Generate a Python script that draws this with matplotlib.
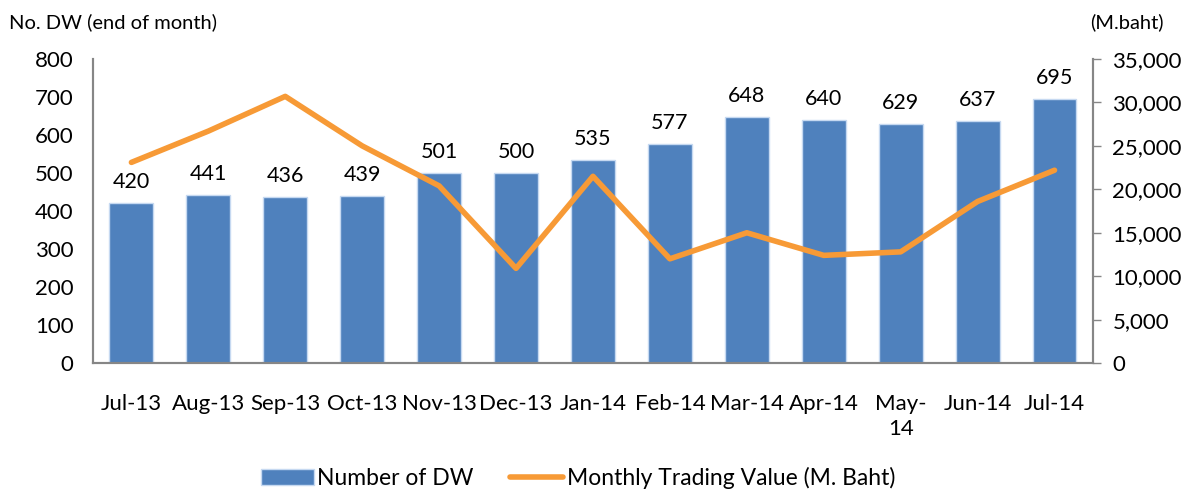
import matplotlib.pyplot as plt
from matplotlib.ticker import FuncFormatter

plt.rcParams['font.family'] = ['Lato', 'DejaVu Sans']

months = ['Jul-13', 'Aug-13', 'Sep-13', 'Oct-13', 'Nov-13', 'Dec-13', 'Jan-14',
          'Feb-14', 'Mar-14', 'Apr-14', 'May-\n14', 'Jun-14', 'Jul-14']
num_dw = [420, 441, 436, 439, 501, 500, 535, 577, 648, 640, 629, 637, 695]
trading_value = [23100, 26700, 30700, 25000, 20400, 10900, 21500,
                 12000, 15000, 12400, 12800, 18600, 22200]

x = list(range(len(months)))

fig = plt.figure(figsize=(11.87, 4.9), dpi=100)
ax = fig.add_axes([0.0783, 0.259, 0.8425, 0.6206])
ax2 = ax.twinx()

bars = ax.bar(x, num_dw, width=0.57, color='#4f81bd', edgecolor='#c6d9f1', linewidth=1,
              label='Number of DW', zorder=2)
line, = ax2.plot(x, trading_value, color='#f79a36', linewidth=4, solid_capstyle='round',
                 label='Monthly Trading Value (M. Baht)', zorder=3)

for xi, v in zip(x, num_dw):
    ax.annotate(str(v), (xi, v), xytext=(0, 8), textcoords='offset points',
                ha='center', va='bottom', fontsize=15.5, zorder=4)

ax.set_xlim(-0.5, 12.5)
ax.set_ylim(0, 800)
ax.set_yticks(range(0, 801, 100))
ax2.set_ylim(0, 35000)
ax2.set_yticks(range(0, 35001, 5000))
ax2.yaxis.set_major_formatter(FuncFormatter(lambda v, p: f'{int(v):,}'))

ax.set_xticks(x)
ax.set_xticklabels(months, fontsize=16, linespacing=1.35)
ax.tick_params(axis='x', length=0, pad=22)
ax.tick_params(axis='y', length=0, labelsize=16, pad=14)
ax2.tick_params(axis='y', length=6, width=1, color='#868686', labelsize=16, pad=8)

for a in (ax, ax2):
    a.spines['top'].set_visible(False)
    for s in ('left', 'right', 'bottom'):
        a.spines[s].set_color('#868686')
        a.spines[s].set_linewidth(1.5)

fig.text(0.008, 0.955, 'No. DW (end of month)', fontsize=14.5, ha='left', va='center')
fig.text(0.918, 0.955, '(M.baht)', fontsize=14.5, ha='left', va='center')

fig.legend(handles=[bars, line], loc='lower center', bbox_to_anchor=(0.487, -0.04),
           ncol=2, frameon=False, fontsize=16.5, handlelength=2.3, handletextpad=0.15,
           columnspacing=1.6)

fig.savefig('out.png', dpi=100)
